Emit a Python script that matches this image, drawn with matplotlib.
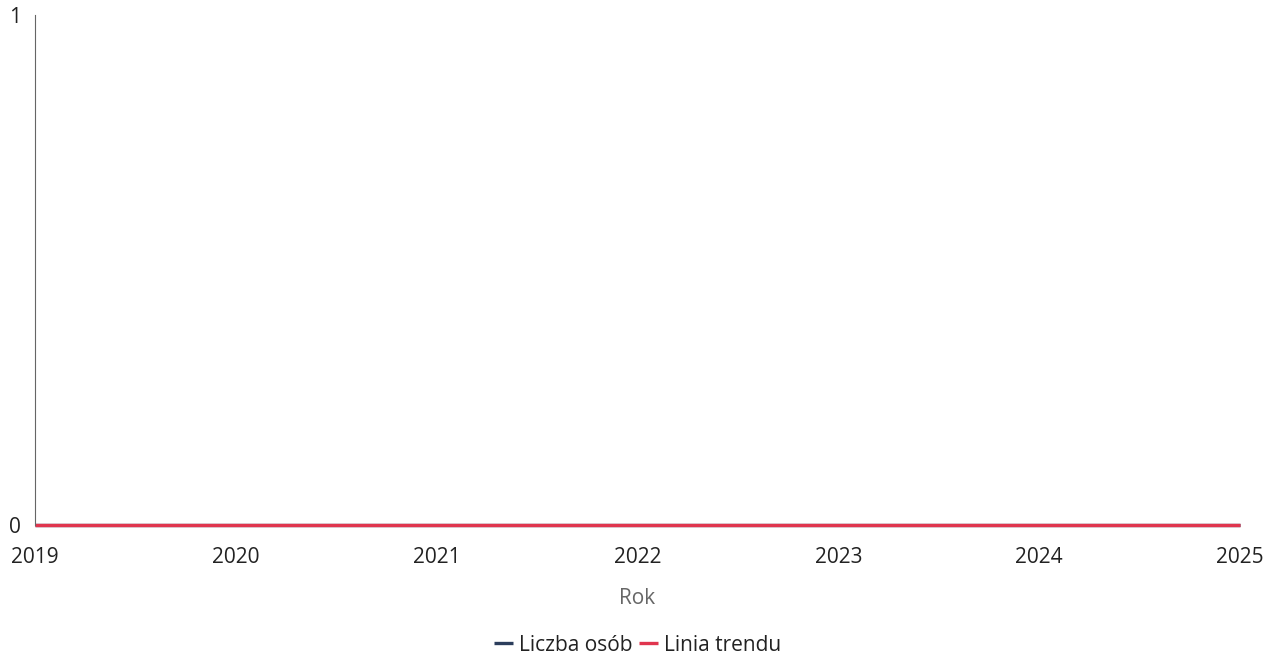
import matplotlib
matplotlib.use("Agg")
import matplotlib.pyplot as plt

years = [2019, 2020, 2021, 2022, 2023, 2024, 2025]
liczba_osob = [0, 0, 0, 0, 0, 0, 0]
linia_trendu = [0, 0, 0, 0, 0, 0, 0]
y_ticks = [0, 1]

plt.rcParams['font.family'] = ['Open Sans', 'DejaVu Sans']

fig = plt.figure(figsize=(12.75, 6.6), dpi=100)
ax = fig.add_axes([0.0275, 0.2045, 0.945, 0.7725])

ax.plot(years, liczba_osob, color='#2c3e5c', lw=2.4, label='Liczba osób',
        solid_capstyle='butt', clip_on=False)
ax.plot(years, linia_trendu, color='#e0354e', lw=2.4, label='Linia trendu',
        solid_capstyle='butt', clip_on=False)

ax.set_xlim(2019, 2025)
ax.set_ylim(0, 1)
ax.set_xticks(years)
ax.set_xticklabels([str(y) for y in years])
ax.set_yticks(y_ticks)
ax.tick_params(axis='both', length=0, labelsize=15, colors='#222222')
ax.tick_params(axis='x', pad=16)
ax.tick_params(axis='y', pad=10)

for s in ['top', 'right', 'bottom']:
    ax.spines[s].set_visible(False)
ax.spines['left'].set_color('#666666')
ax.spines['left'].set_linewidth(0.8)

ax.set_xlabel('Rok', fontsize=15, color='#666666', labelpad=14)

leg = fig.legend(loc='lower center', bbox_to_anchor=(0.5, -0.022), ncol=2, frameon=False,
                 fontsize=15, handlelength=0.9, handletextpad=0.3, columnspacing=0.3)
for t in leg.get_texts():
    t.set_color('#222222')

fig.savefig('out.png', dpi=100)
